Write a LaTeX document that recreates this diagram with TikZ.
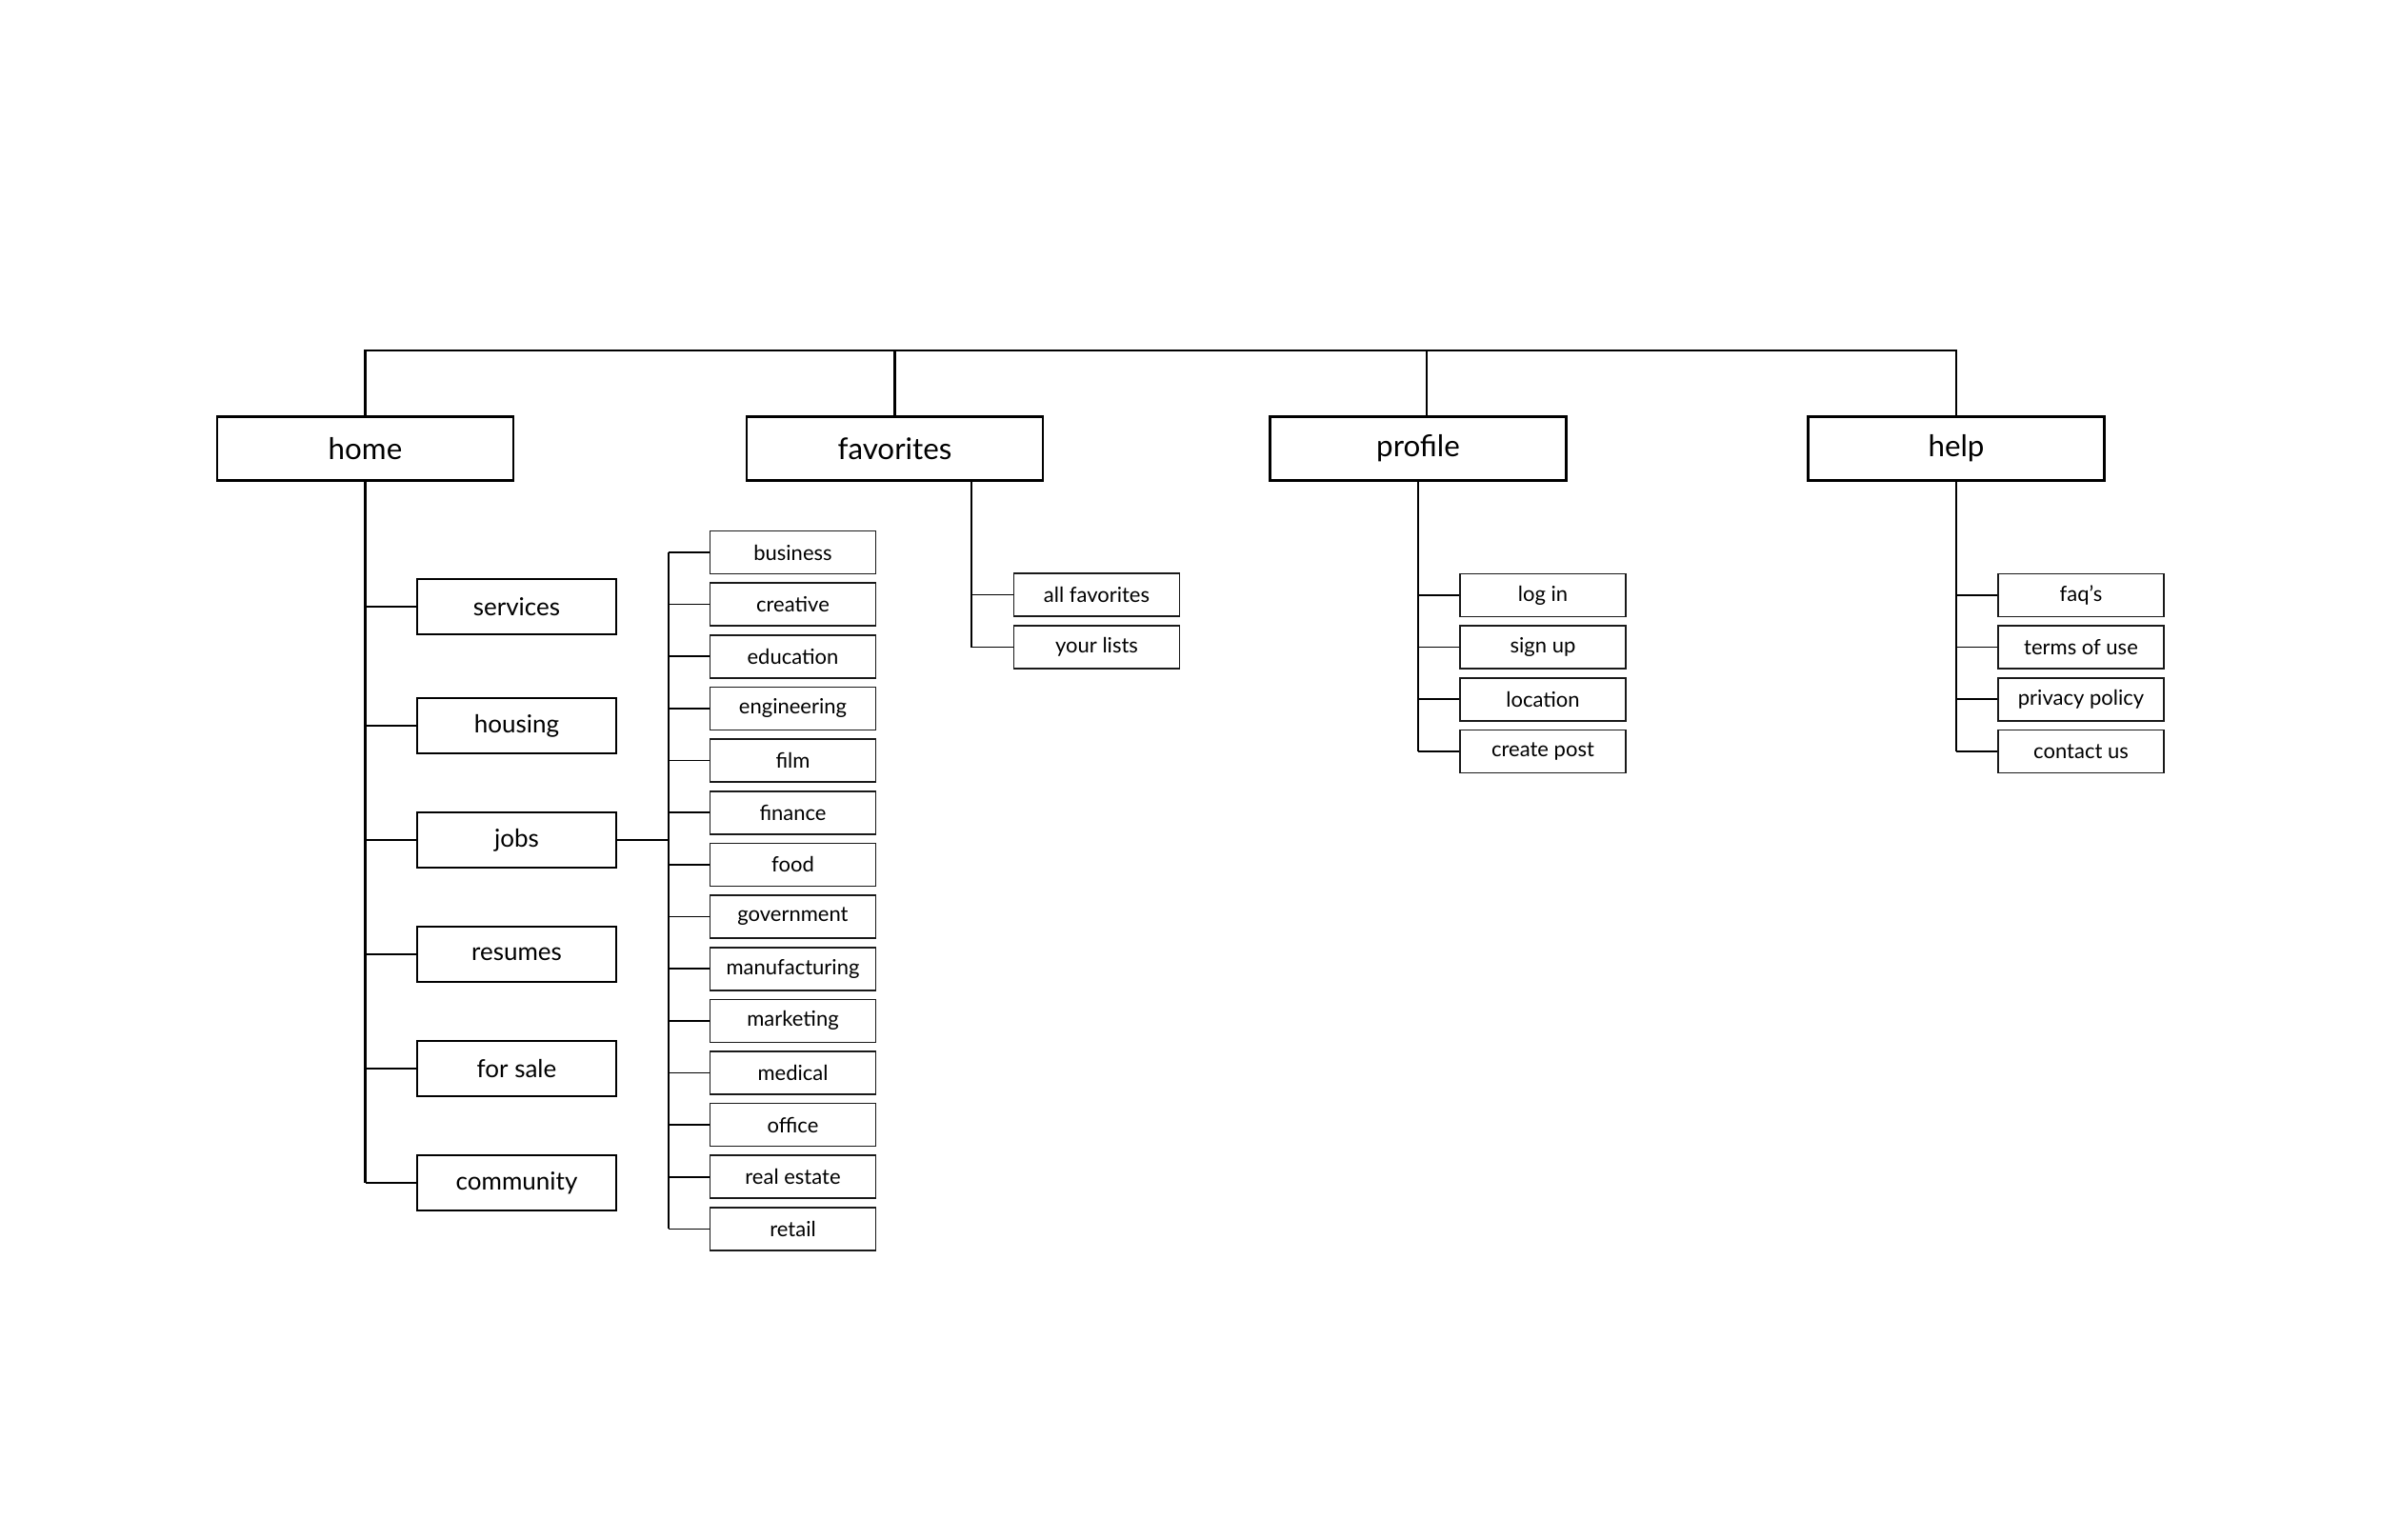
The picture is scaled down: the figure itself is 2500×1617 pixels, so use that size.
\documentclass[tikz,border=0pt]{standalone}
\usepackage{fontspec}
\setmainfont{Lato}
\begin{document}
\begin{tikzpicture}[x=0.3pt,y=-0.3pt,
  mainbox/.style={draw=black,line width=0.75pt,minimum width=93.3pt,minimum height=20.1pt,inner sep=0pt,font=\fontsize{9.4}{11}\selectfont},
  midbox/.style={draw=black,line width=0.65pt,minimum width=62.7pt,minimum height=17.4pt,inner sep=0pt,font=\fontsize{7.8}{9}\selectfont},
  smallbox/.style={draw=black!90,line width=0.5pt,minimum width=52.2pt,minimum height=13.5pt,inner sep=0pt,font=\fontsize{6.6}{7.5}\selectfont},
  thick link/.style={draw=black,line width=0.7pt},
  thin link/.style={draw=black,line width=0.5pt}]
\useasboundingbox (0,0) rectangle (2500,1617);
% top level
\node[mainbox] (home) at (383.5,471) {home};
\node[mainbox] (fav)  at (939.5,471) {favorites};
\node[mainbox] (prof) at (1489,471) {profile};
\node[mainbox] (help) at (2054,471) {help};
\coordinate (bus) at (0,368);
\coordinate (proftop) at (1498,437.5);
\draw[thick link] (home.north) -- (home.north |- bus) -- (help.north |- bus) -- (help.north);
\draw[thick link] (fav.north) -- (fav.north |- bus);
\draw[thick link] (proftop) -- (proftop |- bus);
% home children
\foreach \n/\t/\y in {svc/services/637, hou/housing/762, jobs/jobs/882, res/resumes/1002, sale/for sale/1122, com/community/1242}{
  \node[midbox] (\n) at (542.5,\y) {\t};
  \draw[thick link] (\n.west) -- (\n.west -| home.south);
}
\draw[thick link] (home.south) -- (home.south |- com.west);
% jobs children
\coordinate (jtrunk) at (702,882);
\foreach \n/\t [count=\i from 0] in {bus1/business, cre/creative, edu/education, eng/engineering, film/film, fin/finance, food/food, gov/government, man/manufacturing, mkt/marketing, med/medical, off/office, re/real estate, ret/retail}{
  \node[smallbox] (\n) at (832.5,580+54.65*\i) {\t};
  \draw[thin link] (\n.west) -- (\n.west -| jtrunk);
}
\draw[thin link] (jobs.east) -- (jtrunk);
\draw[thin link] (jtrunk |- bus1.west) -- (jtrunk |- ret.west);
% favorites children
\coordinate (ftrunk) at (1020,505);
\node[smallbox] (allf) at (1151.5,624.5) {all favorites};
\node[smallbox] (lists) at (1151.5,679.5) {your lists};
\draw[thin link] (ftrunk) -- (ftrunk |- lists.west) -- (lists.west);
\draw[thin link] (allf.west) -- (allf.west -| ftrunk);
% profile children
\foreach \n/\t [count=\i from 0] in {login/log in, sign/sign up, loc/location, post/create post}{
  \node[smallbox] (\n) at (1620,625+54.65*\i) {\t};
  \draw[thin link] (\n.west) -- (\n.west -| prof.south);
}
\draw[thin link] (prof.south) -- (prof.south |- post.west);
% help children
\foreach \n/\t [count=\i from 0] in {faq/faq’s, terms/terms of use, priv/privacy policy, cont/contact us}{
  \node[smallbox] (\n) at (2185,625+54.65*\i) {\t};
  \draw[thin link] (\n.west) -- (\n.west -| help.south);
}
\draw[thin link] (help.south) -- (help.south |- cont.west);
\end{tikzpicture}
\end{document}
